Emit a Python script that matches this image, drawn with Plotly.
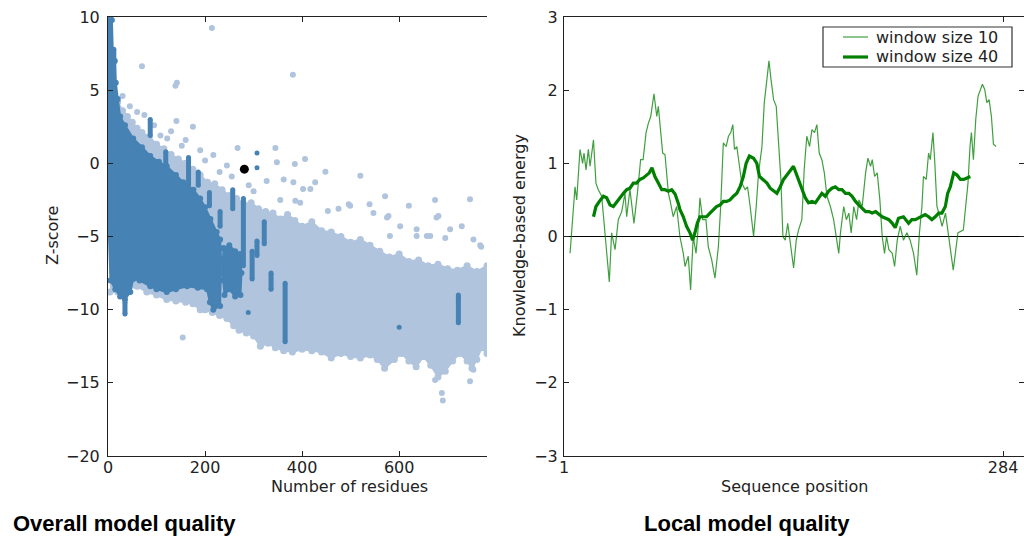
import plotly.graph_objects as go

# ---------------- Left panel: Z-score vs number of residues ----------------
# dense light-blue cloud: upper edge (left->right) and lower edge (right->left)
light_upper_x = [4, 12, 20, 30, 40, 50, 60, 70, 85, 100, 115, 130, 145, 160, 175, 190, 205, 220, 235,
                 250, 265, 280, 295, 310, 325, 340, 355, 370, 385, 400, 420, 440, 460, 480, 500, 520,
                 540, 560, 580, 600, 620, 640, 660, 680, 700, 720, 740, 760, 781]
light_upper_y = [6.0, 5.2, 4.2, 3.6, 3.2, 2.8, 2.4, 2.1, 1.8, 1.3, 1.0, 0.6, 0.3, 0.0, -0.4, -0.8, -1.3,
                 -1.4, -1.8, -2.2, -2.4, -2.8, -2.7, -3.1, -3.3, -3.4, -3.8, -3.5, -3.9, -4.3, -4.0,
                 -4.6, -4.7, -5.0, -5.4, -5.2, -5.6, -6.0, -6.4, -6.2, -6.7, -6.6, -7.0, -6.9, -7.2,
                 -7.3, -7.0, -7.4, -7.0]
light_lower_x = [781, 770, 760, 750, 740, 725, 710, 695, 680, 665, 650, 635, 620, 605, 590, 570, 555,
                 540, 520, 500, 480, 460, 440, 420, 400, 380, 362, 345, 330, 314, 300, 285, 270, 259,
                 245, 230, 215, 200, 190, 175, 160, 140, 121, 100, 80, 60, 40, 20, 4]
light_lower_y = [-13.0, -12.6, -13.4, -14.0, -13.5, -13.0, -13.5, -14.2, -14.6, -13.8, -13.2, -13.9,
                 -13.5, -13.0, -13.4, -14.0, -13.4, -13.1, -13.3, -13.2, -13.0, -13.3, -12.9, -12.8,
                 -12.7, -12.9, -12.8, -12.6, -12.3, -12.5, -11.8, -11.6, -11.4, -11.1, -10.6, -10.4,
                 -10.2, -10.0, -10.0, -9.6, -9.5, -9.4, -9.3, -9.0, -8.8, -8.4, -8.6, -8.8, -8.8]

# scattered light-blue structures outside the dense cloud
light_pts_x = [214, 70, 381, 139, 142, 141, 175, 108, 122, 152, 267, 345, 217, 348, 385, 406, 448, 520,
               245, 327, 362, 382, 427, 417, 475, 496, 571, 620, 674, 746, 547, 575, 602, 677, 705,
               729, 767, 636, 664, 581, 506, 479, 753, 396, 355, 386, 402, 499, 578, 681, 636, 657,
               695, 769, 453, 539, 154, 688, 690, 746, 674, 753, 300, 290, 255, 230, 200, 190, 160,
               130, 95, 75, 45, 60, 30]
light_pts_y = [9.25, 6.64, 6.05, 5.3, 5.5, 2.9, 2.5, 1.9, 1.7, 1.2, 1.05, 1.05, 0.57, 0.08, -0.05, 0.3,
               -0.57, -0.85, -0.15, -1.2, -1.1, -1.3, -1.3, -1.76, -3.1, -2.8, -2.25, -2.9, -2.5,
               -2.45, -3.4, -3.7, -4.3, -3.7, -4.5, -4.3, -5.6, -4.96, -4.96, -4.96, -5.6, -5.2,
               -5.2, -2.7, -2.5, -2.56, -1.76, -2.9, -3.6, -3.6, -4.5, -4.96, -5.1, -5.7, -3.25,
               -2.8, -11.9, -15.7, -16.2, -14.9, -14.8, -14.1, -1.9, -1.5, -0.9, -0.6, 0.2, 0.9,
               1.6, 2.2, 2.6, 3.3, 3.9, 3.5, 4.6]

# dense dark-blue cloud (polygon) and a second dark blob
dark_x = [2, 8, 10, 14, 16, 20, 25, 35, 52, 70, 87, 105, 121, 140, 155, 176, 190, 200, 211, 224, 231,
          233, 232, 231, 217, 210, 204, 185, 163, 140, 121, 100, 87, 65, 52, 46, 35, 25, 15, 5, 2]
dark_y = [9.8, 9.8, 7.5, 7.0, 5.5, 4.4, 3.2, 2.6, 1.7, 1.1, 0.5, 0.1, -0.2, -0.8, -1.3, -1.8, -2.4,
          -3.0, -3.8, -4.7, -5.2, -6.5, -8.0, -9.75, -10.0, -9.5, -8.6, -8.5, -8.4, -8.6, -8.8,
          -8.6, -8.4, -8.0, -7.9, -8.8, -9.3, -9.1, -8.6, -8.0, -5.0]
dark2_x = [238, 250, 262, 272, 275, 273, 262, 250, 240, 236]
dark2_y = [-5.8, -5.6, -6.0, -6.2, -7.5, -9.0, -9.1, -8.6, -9.0, -7.5]

# dark-blue vertical streaks: x, top, bottom
dark_col_x = [87, 119, 166, 186, 209, 231, 257, 279, 322, 307, 297, 336, 365, 722, 35, 4, 12]
dark_col_top = [3.0, 0.8, 0.4, -0.6, -2.0, -3.3, -1.8, -2.4, -4.0, -5.3, -6.0, -7.5, -8.2, -9.1, -9.5, 9.7, 7.8]
dark_col_bot = [1.9, -0.4, -1.5, -1.5, -2.9, -4.3, -3.1, -7.0, -5.5, -6.3, -7.9, -8.6, -12.2, -10.9, -10.3, 4.0, 5.5]

dark_pts_x = [307, 307, 289, 600, 722]
dark_pts_y = [0.7, -0.3, -10.2, -11.2, -9.0]

model_x = [281]
model_y = [-0.4]

left_xticks = [0, 200, 400, 600]
left_yticks = [10, 5, 0, -5, -10, -15, -20]

# ---------------- Right panel: local model quality ----------------
win10_x = [4.9, 7.0, 8.1, 9.2, 11.3, 13.0, 13.9, 15.2, 16.7, 17.8, 20.0, 21.6, 23.1, 25.3, 27.4, 28.5,
           30.2, 31.7, 33.9, 36.0, 38.2, 40.3, 41.4, 43.5, 46.1, 48.3, 50.4, 52.0, 53.9, 55.4, 56.9,
           59.0, 60.8, 61.8, 62.9, 64.6, 66.1, 68.3, 69.3, 71.4, 73.6, 75.7, 77.9, 79.0, 81.1, 82.6,
           84.3, 86.1, 87.6, 88.6, 90.4, 92.5, 94.0, 96.2, 98.3, 100.5, 102.0, 103.7, 105.5, 107.0,
           108.5, 109.8, 110.9, 112.4, 114.1, 115.6, 117.8, 119.3, 121.0, 123.2, 124.9, 126.4, 128.6,
           130.1, 131.8, 133.1, 134.4, 136.1, 137.8, 139.3, 140.8, 142.1, 143.6, 145.2, 147.2, 149.0,
           150.7, 152.2, 154.3, 155.8, 157.5, 159.3, 160.8, 162.5, 164.0, 165.5, 167.2, 168.8, 170.5,
           172.7, 174.8, 176.6, 178.1, 179.2, 181.3, 183.0, 184.6, 186.1, 187.8, 189.6, 191.1, 193.2,
           195.4, 196.9, 198.6, 199.7, 201.2, 202.9, 204.6, 206.1, 207.6, 208.9, 210.4, 212.6, 214.1,
           215.8, 217.7, 219.8, 222.0, 224.1, 226.3, 228.4, 230.1, 231.7, 232.7, 234.5, 236.0, 237.1,
           238.8, 239.9, 241.4, 243.2, 244.7, 246.9, 248.4, 250.1, 251.9, 253.4, 254.9, 256.7, 258.4,
           259.9, 261.4, 262.7, 263.6, 264.9, 266.4, 267.9, 269.2, 270.7, 272.2, 273.5, 275.0, 276.5,
           277.8, 279.5]
win10_y = [-0.23, 0.41, 0.68, 0.50, 1.19, 1.00, 1.14, 0.91, 1.19, 0.96, 1.32, 0.73, 0.64, 0.55, 0.05,
           -0.18, -0.62, 0.05, -0.18, 0.23, 0.34, 0.59, 0.27, 0.64, 0.18, 0.59, 1.05, 1.05, 1.42, 1.55,
           1.64, 1.95, 1.64, 1.78, 1.51, 1.14, 1.12, 0.59, 0.50, 0.27, 0.41, 0.00, -0.23, -0.41, -0.27,
           -0.73, 0.00, -0.23, 0.14, 0.53, 0.23, 0.23, -0.14, -0.32, -0.57, -0.14, 0.41, 1.28, 1.23,
           1.37, 1.42, 1.53, 1.19, 1.23, 0.96, 0.73, 0.64, 0.68, 0.41, 0.00, 0.41, 0.87, 1.23, 1.83,
           2.15, 2.40, 2.15, 1.87, 1.78, 1.28, 0.78, 0.00, -0.05, 0.18, -0.18, -0.43, -0.05, 0.09,
           0.23, 0.91, 1.37, 1.23, 1.46, 1.42, 1.53, 1.14, 1.05, 0.87, 0.55, 0.41, 0.23, 0.00, -0.23,
           0.05, 0.41, 0.23, 0.32, 0.05, 0.41, 0.23, 0.50, 0.41, 0.87, 1.07, 0.96, 1.05, 0.82, 0.87,
           0.50, 0.00, -0.23, 0.00, -0.18, -0.23, -0.41, -0.05, 0.14, -0.05, 0.05, -0.05, -0.23,
           -0.53, 0.05, 0.41, 0.82, 0.78, 1.14, 1.05, 1.42, 1.05, 0.41, 0.27, 0.14, 0.32, 0.05,
           -0.18, -0.46, -0.23, 0.05, 0.07, 0.09, 0.41, 0.73, 1.23, 1.42, 1.05, 1.60, 1.92, 2.01,
           2.08, 2.01, 1.83, 1.87, 1.64, 1.26, 1.23]

win40_x = [20.0, 21.6, 23.8, 26.4, 28.5, 30.7, 32.8, 35.0, 37.1, 39.3, 41.4, 43.5, 45.7, 47.8, 49.9,
           52.1, 54.3, 56.0, 57.7, 59.6, 61.8, 64.0, 66.1, 68.3, 70.4, 72.6, 74.7, 75.7, 77.9, 80.0,
           82.2, 83.9, 85.4, 86.9, 88.6, 90.8, 92.9, 95.1, 97.2, 99.3, 101.5, 103.7, 105.8, 108.0,
           110.2, 112.4, 114.5, 116.6, 118.4, 120.5, 123.2, 125.3, 127.0, 129.2, 131.8, 133.9, 136.1,
           138.2, 140.4, 142.5, 144.7, 146.4, 148.9, 150.5, 152.2, 154.3, 156.5, 158.6, 160.8, 163.0,
           165.1, 167.2, 169.4, 171.6, 173.7, 175.9, 178.1, 180.2, 182.4, 184.6, 186.7, 188.9, 191.1,
           193.2, 195.4, 197.6, 199.7, 201.9, 204.0, 206.1, 208.3, 210.4, 212.6, 214.5, 216.6, 219.8,
           223.1, 225.2, 227.4, 229.5, 231.7, 233.8, 236.0, 238.1, 240.3, 242.5, 244.6, 246.8, 248.3,
           250.0, 252.2, 254.3, 256.5, 258.6, 260.8, 262.9]
win40_y = [0.27, 0.41, 0.48, 0.55, 0.53, 0.43, 0.41, 0.48, 0.53, 0.59, 0.64, 0.66, 0.73, 0.73, 0.78,
           0.80, 0.84, 0.87, 0.94, 0.82, 0.73, 0.64, 0.64, 0.62, 0.64, 0.58, 0.45, 0.37, 0.27, 0.14,
           0.05, -0.05, 0.05, 0.18, 0.27, 0.27, 0.27, 0.32, 0.37, 0.41, 0.43, 0.48, 0.48, 0.50, 0.55,
           0.59, 0.68, 0.82, 1.00, 1.10, 1.07, 1.00, 0.82, 0.78, 0.73, 0.66, 0.62, 0.59, 0.68, 0.78,
           0.84, 0.89, 0.96, 0.87, 0.78, 0.64, 0.53, 0.46, 0.48, 0.46, 0.53, 0.59, 0.55, 0.62, 0.66,
           0.68, 0.64, 0.64, 0.59, 0.59, 0.55, 0.48, 0.43, 0.39, 0.34, 0.34, 0.32, 0.34, 0.30, 0.27,
           0.25, 0.23, 0.18, 0.12, 0.25, 0.27, 0.18, 0.23, 0.23, 0.25, 0.27, 0.30, 0.27, 0.23, 0.27,
           0.32, 0.32, 0.41, 0.59, 0.68, 0.87, 0.84, 0.78, 0.78, 0.80, 0.82]

right_xticks = [1, 284]
right_yticks = [3, 2, 1, 0, -1, -2, -3]

legend_labels = ["window size 10", "window size 40"]

# ---------------- styling ----------------
W, H = 1024, 540
LIGHT = "#b0c4de"
DARK = "#4682b4"
GREEN = "#008000"
AXC = "#222222"
TICKFONT = dict(family="DejaVu Sans", size=16, color=AXC)
THIN = dict(color=GREEN, width=1.2)
THICK = dict(color=GREEN, width=3.2)


def minus(v):
    return str(v).replace("-", "\u2212")


def px_x(p):
    return p / W


def px_y(p):
    return 1 - p / H


fig = go.Figure()

# light cloud
fig.add_trace(go.Scatter(
    x=light_upper_x + light_lower_x, y=light_upper_y + light_lower_y,
    mode="lines+markers", fill="toself", fillcolor=LIGHT,
    line=dict(color=LIGHT, width=2), marker=dict(color=LIGHT, size=7),
    xaxis="x", yaxis="y", showlegend=False, hoverinfo="skip"))
fig.add_trace(go.Scatter(
    x=light_pts_x, y=light_pts_y, mode="markers",
    marker=dict(color=LIGHT, size=6), xaxis="x", yaxis="y",
    showlegend=False, hoverinfo="skip"))

# dark cloud
for px_, py_ in ((dark_x, dark_y), (dark2_x, dark2_y)):
    fig.add_trace(go.Scatter(
        x=px_ + [px_[0]], y=py_ + [py_[0]], mode="lines+markers", fill="toself", fillcolor=DARK,
        line=dict(color=DARK, width=2), marker=dict(color=DARK, size=6),
        xaxis="x", yaxis="y", showlegend=False, hoverinfo="skip"))

col_x, col_y = [], []
for cx, ct, cb in zip(dark_col_x, dark_col_top, dark_col_bot):
    col_x += [cx, cx, None]
    col_y += [ct, cb, None]
fig.add_trace(go.Scatter(
    x=col_x, y=col_y, mode="lines+markers",
    line=dict(color=DARK, width=5), marker=dict(color=DARK, size=5),
    xaxis="x", yaxis="y", showlegend=False, hoverinfo="skip"))
fig.add_trace(go.Scatter(
    x=dark_pts_x, y=dark_pts_y, mode="markers", marker=dict(color=DARK, size=5),
    xaxis="x", yaxis="y", showlegend=False, hoverinfo="skip"))
fig.add_trace(go.Scatter(
    x=model_x, y=model_y, mode="markers", marker=dict(color="black", size=9),
    xaxis="x", yaxis="y", showlegend=False, hoverinfo="skip"))

# right panel lines
fig.add_trace(go.Scatter(
    x=win10_x, y=win10_y, mode="lines", name=legend_labels[0],
    line=THIN, opacity=0.75, xaxis="x2", yaxis="y2", showlegend=False))
fig.add_trace(go.Scatter(
    x=win40_x, y=win40_y, mode="lines", name=legend_labels[1],
    line=THICK, xaxis="x2", yaxis="y2", showlegend=False))

axis_common = dict(showgrid=False, showline=True, linecolor=AXC, linewidth=1, automargin=False,
                   ticks="inside", ticklen=5, tickcolor=AXC, tickfont=TICKFONT)

fig.update_layout(
    width=W, height=H, margin=dict(l=0, r=0, t=0, b=0, autoexpand=False),
    paper_bgcolor="white", plot_bgcolor="white", showlegend=False,
    xaxis=dict(domain=[px_x(108), px_x(487)], range=[0, 781], anchor="y",
               tickvals=left_xticks, ticktext=[minus(v) for v in left_xticks],
               mirror="ticks", zeroline=False, ticklabelstandoff=-3, **axis_common),
    yaxis=dict(domain=[px_y(456), px_y(17)], range=[-20, 10], anchor="x",
               tickvals=left_yticks, ticktext=[minus(v) for v in left_yticks],
               mirror=False, zeroline=False, ticklabelstandoff=4, **axis_common),
    xaxis2=dict(domain=[px_x(564), 1.0], range=[1, 297.5], anchor="y2",
                tickvals=right_xticks, ticktext=[str(v) for v in right_xticks],
                mirror="ticks", zeroline=False, ticklabelstandoff=-3, **axis_common),
    yaxis2=dict(domain=[px_y(456), px_y(17)], range=[-3, 3], anchor="x2",
                tickvals=right_yticks, ticktext=[minus(v) for v in right_yticks],
                mirror="ticks", ticklabelstandoff=2,
                zeroline=True, zerolinecolor="black", zerolinewidth=1, **axis_common),
)

# legend box (matplotlib style) in the right panel
fig.add_shape(type="rect", xref="paper", yref="paper",
              x0=px_x(823), x1=px_x(1012), y0=px_y(67), y1=px_y(27),
              line=dict(color="#333333", width=1.2), fillcolor="white", layer="above")
for row_y, lstyle, label in ((37, THIN, legend_labels[0]), (57, THICK, legend_labels[1])):
    fig.add_shape(type="line", xref="paper", yref="paper",
                  x0=px_x(843), x1=px_x(868), y0=px_y(row_y), y1=px_y(row_y),
                  line=dict(color=GREEN, width=lstyle["width"]),
                  opacity=0.75 if lstyle is THIN else 1.0, layer="above")
    fig.add_annotation(text=label, xref="paper", yref="paper", x=px_x(874), y=px_y(row_y),
                       xanchor="left", yanchor="middle", showarrow=False,
                       font=dict(family="DejaVu Sans", size=16, color=AXC))

ann = [
    dict(text="Z-score", x=px_x(52), y=px_y(236), textangle=-90,
         font=dict(family="DejaVu Sans", size=16, color=AXC)),
    dict(text="Number of residues", x=px_x(349.5), y=px_y(486),
         font=dict(family="DejaVu Sans", size=16, color=AXC)),
    dict(text="Knowledge-based energy", x=px_x(519), y=px_y(236), textangle=-90,
         font=dict(family="DejaVu Sans", size=16, color=AXC)),
    dict(text="Sequence position", x=px_x(794), y=px_y(486),
         font=dict(family="DejaVu Sans", size=16, color=AXC)),
    dict(text="<b>Overall model quality</b>", x=px_x(124), y=px_y(523),
         font=dict(family="Liberation Sans", size=22, color="black")),
    dict(text="<b>Local model quality</b>", x=px_x(746.7), y=px_y(523),
         font=dict(family="Liberation Sans", size=22, color="black")),
]
for a in ann:
    fig.add_annotation(xref="paper", yref="paper", xanchor="center", yanchor="middle",
                       showarrow=False, **a)

fig.write_html("out.html", config={"displayModeBar": False},
               post_script="document.body.style.margin='0px';")
